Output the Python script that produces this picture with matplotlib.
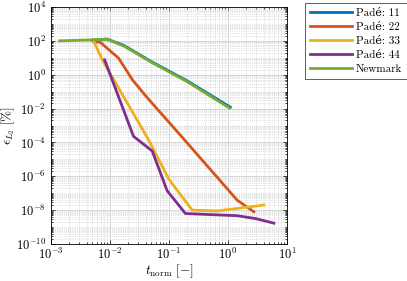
import numpy as np
import matplotlib
matplotlib.use("Agg")
import matplotlib.pyplot as plt

# error vs normalised time step
t_p11 = [0.0050, 0.0089, 0.017, 0.05, 0.2, 1.1]
e_p11 = [110, 128, 55, 6.0, 0.45, 0.012]

t_p22 = [0.0053, 0.0069, 0.014, 0.024, 0.043, 0.17, 1.43, 2.75]
e_p22 = [90, 80, 9.5, 0.5, 0.043, 1.9e-4, 3.9e-8, 8e-9]

t_p33 = [0.0053, 0.0074, 0.043, 0.10, 0.247, 0.66, 4.05]
e_p33 = [95, 7.6, 1.9e-4, 6.6e-7, 1.0e-8, 9e-9, 2e-8]

t_p44 = [0.0081, 0.025, 0.052, 0.093, 0.19, 1.43, 2.9, 6.0]
e_p44 = [7.6, 2.3e-4, 3.1e-5, 1.4e-7, 6.3e-9, 4.7e-9, 3.2e-9, 1.7e-9]

t_nm = [0.0014, 0.0047, 0.0089, 0.017, 0.05, 0.2, 1.05]
e_nm = [100, 115, 125, 50, 5.5, 0.4, 0.011]

labels = ["Padé: 11", "Padé: 22", "Padé: 33", "Padé: 44", "Newmark"]
colors = ["#0072BD", "#D95319", "#EDB120", "#7E2F8E", "#77AC30"]

plt.rcParams['font.family'] = ['cmr10', 'DejaVu Serif']
plt.rcParams['mathtext.fontset'] = 'cm'
plt.rcParams['axes.formatter.use_mathtext'] = True

W, H = 407, 281
fig = plt.figure(figsize=(W / 100, H / 100), dpi=100)
ax = fig.add_axes([51 / W, 1 - 244 / H, (287 - 51) / W, (244 - 7) / H])

series = [(t_p11, e_p11), (t_p22, e_p22), (t_p33, e_p33), (t_p44, e_p44), (t_nm, e_nm)]
handles = []
for (t, e), lab, c in zip(series, labels, colors):
    h, = ax.plot(t, e, color=c, lw=2.0, label=lab)
    handles.append(h)

ax.set_xscale('log')
ax.set_yscale('log')
ax.set_xlim(1e-3, 1e1)
ax.set_ylim(1e-10, 1e4)
ax.set_xticks([1e-3, 1e-2, 1e-1, 1e0, 1e1])
ax.set_yticks([1e-10, 1e-8, 1e-6, 1e-4, 1e-2, 1e0, 1e2, 1e4])
ax.yaxis.set_minor_locator(matplotlib.ticker.LogLocator(base=10, subs=np.arange(1, 10), numticks=30))
ax.yaxis.set_minor_formatter(matplotlib.ticker.NullFormatter())
ax.xaxis.set_minor_locator(matplotlib.ticker.LogLocator(base=10, subs=np.arange(1, 10), numticks=30))
ax.xaxis.set_minor_formatter(matplotlib.ticker.NullFormatter())

ax.grid(True, which='major', color='#d0d0d0', lw=0.6, ls='-')
ax.grid(True, which='minor', color='#c8c8c8', lw=0.5, ls=':')
ax.set_axisbelow(True)
ax.tick_params(which='both', direction='in', top=True, right=True, labelsize=9, width=0.5)
ax.tick_params(which='major', length=3)
ax.tick_params(which='minor', length=1.5)
ax.tick_params(axis='x', pad=2)
for s in ax.spines.values():
    s.set_linewidth(0.6)

ax.set_xlabel(r'$t_{\mathrm{norm}}\ [-]$', fontsize=9.5, labelpad=0)
ax.set_ylabel(r'$\epsilon_{L_2}\ [\%]$', fontsize=9.5)
ax.yaxis.set_label_coords((17 - 51) / 236, 0.5)

leg = fig.legend(handles=handles, labels=labels, loc='upper left',
                 bbox_to_anchor=(305 / W, 1 - 3 / H), fontsize=8,
                 fancybox=False, edgecolor='#444444', framealpha=1,
                 handlelength=3.8, handletextpad=0.3, borderpad=0.45,
                 labelspacing=0.38, borderaxespad=0)
leg.get_frame().set_linewidth(0.6)

fig.savefig('out.png', dpi=100)
